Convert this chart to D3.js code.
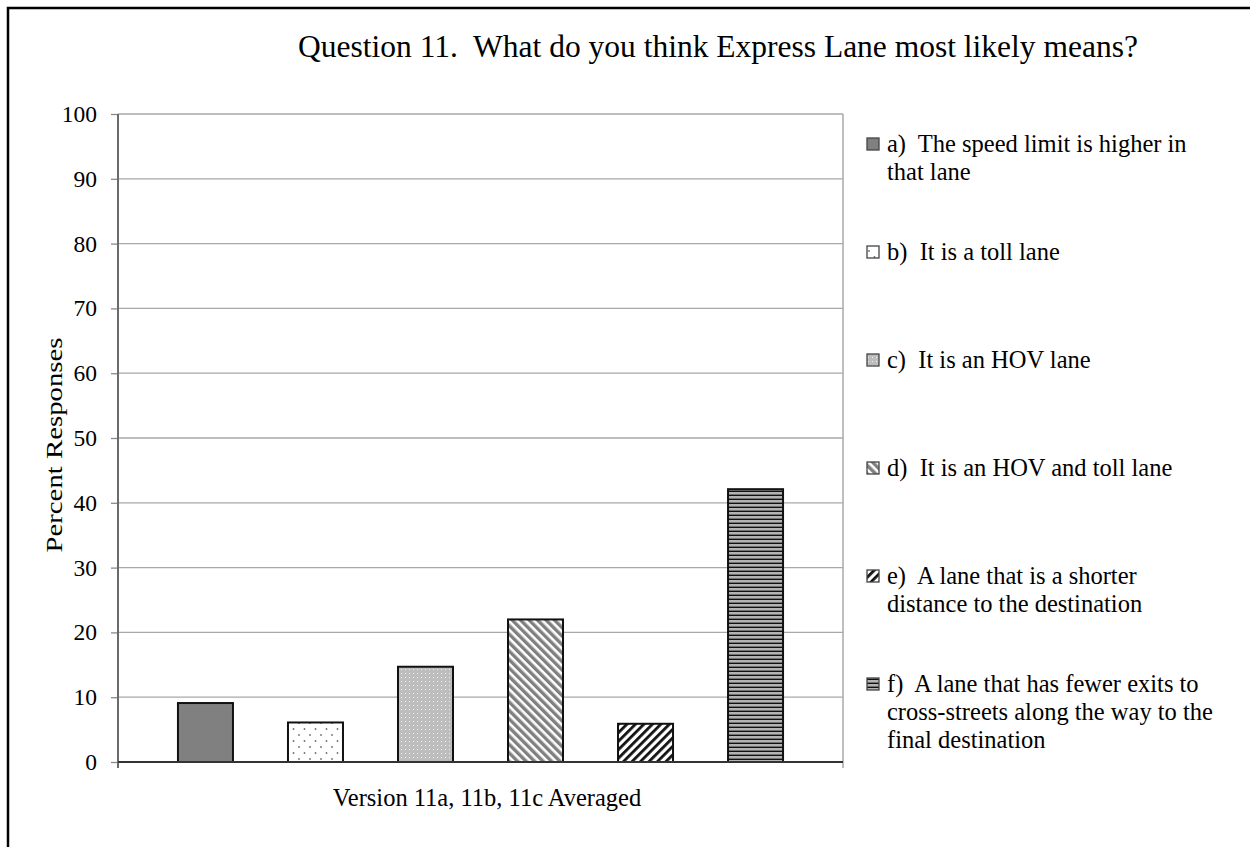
<!DOCTYPE html>
<html>
<head>
<meta charset="utf-8">
<script src="https://cdn.jsdelivr.net/npm/d3@7"></script>
<style>
  html, body { margin: 0; padding: 0; background: #fff; }
  svg { display: block; }
  text { font-family: "Liberation Serif", "Times New Roman", serif; fill: #000; white-space: pre; }
</style>
</head>
<body>
<svg id="chart" width="1250" height="847"></svg>
<script>
// data
var title = "Question 11.  What do you think Express Lane most likely means?"
var xTitle = "Version 11a, 11b, 11c Averaged"
var yTitle = "Percent Responses"
var keys = ["a", "b", "c", "d", "e", "f"]
var values = [9.1, 6.1, 14.7, 22.0, 5.9, 42.1]
var yTicks = [0, 10, 20, 30, 40, 50, 60, 70, 80, 90, 100]
var legendLines = [
  ["a)  The speed limit is higher in", "that lane"],
  ["b)  It is a toll lane"],
  ["c)  It is an HOV lane"],
  ["d)  It is an HOV and toll lane"],
  ["e)  A lane that is a shorter", "distance to the destination"],
  ["f)  A lane that has fewer exits to", "cross-streets along the way to the", "final destination"]
]

var svg = d3.select("#chart")
var defs = svg.append("defs")

// fill patterns, one per answer
var pa = defs.append("pattern").attr("id", "p-a").attr("patternUnits", "userSpaceOnUse")
  .attr("width", 4).attr("height", 4)
pa.append("rect").attr("width", 4).attr("height", 4).attr("fill", "#808080")

var pb = defs.append("pattern").attr("id", "p-b").attr("patternUnits", "userSpaceOnUse")
  .attr("width", 11).attr("height", 12)
pb.append("rect").attr("width", 11).attr("height", 12).attr("fill", "#fff")
pb.append("circle").attr("cx", 2).attr("cy", 3).attr("r", 0.9).attr("fill", "#707070")
pb.append("circle").attr("cx", 7.5).attr("cy", 9).attr("r", 0.9).attr("fill", "#707070")

var pc = defs.append("pattern").attr("id", "p-c").attr("patternUnits", "userSpaceOnUse")
  .attr("width", 4).attr("height", 4)
pc.append("rect").attr("width", 4).attr("height", 4).attr("fill", "#bdbdbd")
pc.append("rect").attr("x", 1).attr("y", 1).attr("width", 1).attr("height", 1).attr("fill", "#f2f2f2")

var pd = defs.append("pattern").attr("id", "p-d").attr("patternUnits", "userSpaceOnUse")
  .attr("width", 6).attr("height", 6).attr("patternTransform", "rotate(-45)")
pd.append("rect").attr("width", 6).attr("height", 6).attr("fill", "#fff")
pd.append("rect").attr("width", 3.4).attr("height", 6).attr("fill", "#808080")

var pe = defs.append("pattern").attr("id", "p-e").attr("patternUnits", "userSpaceOnUse")
  .attr("width", 6).attr("height", 6).attr("patternTransform", "rotate(45)")
pe.append("rect").attr("width", 6).attr("height", 6).attr("fill", "#fff")
pe.append("rect").attr("width", 2.8).attr("height", 6).attr("fill", "#111")

var pf = defs.append("pattern").attr("id", "p-f").attr("patternUnits", "userSpaceOnUse")
  .attr("width", 4).attr("height", 4)
pf.append("rect").attr("width", 4).attr("height", 4).attr("fill", "#b3b3b3")
pf.append("rect").attr("y", 2.6).attr("width", 4).attr("height", 1.4).attr("fill", "#111")

var fill = k => "url(#p-" + k + ")"

// outer frame (only left and top edges are visible)
svg.append("path")
  .attr("d", "M8,847V8H1250")
  .attr("fill", "none").attr("stroke", "#000").attr("stroke-width", 2.5)

// plot box ("top" is taken by window.top, so use other names)
var pLeft = 118, pRight = 843, pTop = 114, pBottom = 762

var y = d3.scaleLinear().domain([0, 100]).range([pBottom, pTop])
var x = d3.scaleBand().domain(keys).range([pLeft, pRight])
  .paddingInner(0.5).paddingOuter(0.545)

// gridlines
svg.append("g")
  .selectAll("line")
  .data(yTicks.filter(d => d > 0))
  .enter().append("line")
  .attr("x1", pLeft).attr("x2", pRight)
  .attr("y1", d => y(d)).attr("y2", d => y(d))
  .attr("stroke", "#a8a8a8").attr("stroke-width", 1.3)

// right border of plot, runs below the axis like a tick
svg.append("line")
  .attr("x1", pRight).attr("x2", pRight).attr("y1", pTop).attr("y2", pBottom + 6)
  .attr("stroke", "#a8a8a8").attr("stroke-width", 1.5)

// y axis
var yAxis = svg.append("g")
  .attr("transform", "translate(" + pLeft + ",0)")
  .call(d3.axisLeft(y).tickValues(yTicks).tickSize(7).tickPadding(14))
yAxis.select(".domain").remove()
yAxis.selectAll(".tick line").attr("stroke", "#8a8a8a").attr("stroke-width", 1.3)
yAxis.selectAll(".tick text")
  .attr("font-family", "Liberation Serif, serif").attr("font-size", 23.5)
  .attr("fill", "#000")
svg.append("line")
  .attr("x1", pLeft).attr("x2", pLeft).attr("y1", pTop).attr("y2", pBottom + 6)
  .attr("stroke", "#6a6a6a").attr("stroke-width", 2)

// bars
svg.append("g")
  .selectAll("rect")
  .data(keys)
  .enter().append("rect")
  .attr("x", d => x(d))
  .attr("y", (d, i) => y(values[i]))
  .attr("width", x.bandwidth())
  .attr("height", (d, i) => y(0) - y(values[i]))
  .attr("fill", d => fill(d))
  .attr("stroke", "#111").attr("stroke-width", 2)

// x axis line
svg.append("line")
  .attr("x1", pLeft).attr("x2", pRight).attr("y1", pBottom).attr("y2", pBottom)
  .attr("stroke", "#333").attr("stroke-width", 1.8)

// titles
svg.append("text")
  .attr("x", 718).attr("y", 57)
  .attr("text-anchor", "middle").attr("font-size", 31.5)
  .text(title)

svg.append("text")
  .attr("x", 487).attr("y", 806)
  .attr("text-anchor", "middle").attr("font-size", 24.5)
  .text(xTitle)

svg.append("text")
  .attr("transform", "translate(62,445) rotate(-90) scale(1.2,1)")
  .attr("text-anchor", "middle").attr("font-size", 24)
  .text(yTitle)

// legend
var legend = svg.append("g")
  .selectAll("g")
  .data(keys)
  .enter().append("g")
  .attr("transform", (d, i) => "translate(867," + (152 + i * 108) + ")")

legend.append("rect")
  .attr("x", 0).attr("y", -14).attr("width", 12).attr("height", 12)
  .attr("fill", d => fill(d))
  .attr("stroke", "#444").attr("stroke-width", 1.3)

legend.append("text")
  .attr("x", 20).attr("font-size", 24.5)
  .selectAll("tspan")
  .data((d, i) => legendLines[i])
  .enter().append("tspan")
  .attr("x", 20)
  .attr("dy", (d, j) => j === 0 ? 0 : 28)
  .text(d => d)
</script>
</body>
</html>
